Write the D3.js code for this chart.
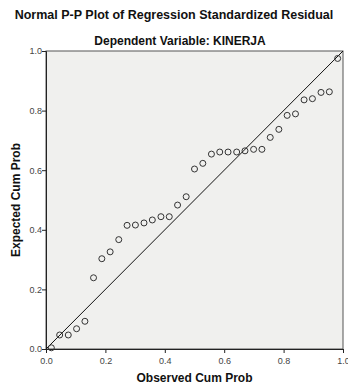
<!DOCTYPE html>
<html lang="en">
<head>
<meta charset="UTF-8">
<title>Normal P-P Plot</title>
<script src="https://cdn.jsdelivr.net/npm/d3@7"></script>
<style>
  body { margin: 0; background: #fff; }
</style>
</head>
<body>
<div id="container"></div>
<script>
const width = 348;
const height = 386;
const margin = { top: 51, left: 46, right: 5, bottom: 37 };

const titleText = 'Normal P-P Plot of Regression Standardized Residual';
const subtitleText = 'Dependent Variable: KINERJA';
const xLabel = 'Observed Cum Prob';
const yLabel = 'Expected Cum Prob';
const tickValues = [0, 0.2, 0.4, 0.6, 0.8, 1.0];

// observed cumulative probability (35 residuals)
const observed = [0.018, 0.046, 0.075, 0.103, 0.131, 0.160, 0.188, 0.216, 0.245, 0.273,
  0.301, 0.330, 0.358, 0.387, 0.415, 0.443, 0.472, 0.500, 0.528, 0.557,
  0.585, 0.613, 0.642, 0.670, 0.699, 0.727, 0.755, 0.784, 0.812, 0.840,
  0.869, 0.897, 0.926, 0.954, 0.982];
// expected cumulative probability
const expected = [0.004, 0.047, 0.047, 0.068, 0.093, 0.239, 0.303, 0.326, 0.367, 0.415,
  0.416, 0.423, 0.433, 0.444, 0.444, 0.483, 0.511, 0.604, 0.623, 0.654,
  0.661, 0.661, 0.661, 0.665, 0.670, 0.670, 0.710, 0.737, 0.784, 0.789,
  0.836, 0.840, 0.861, 0.863, 0.975];

const points = observed.map((d, i) => ({ x: d, y: expected[i] }));

const x = d3.scaleLinear().domain([0, 1]).range([margin.left, width - margin.right]);
const y = d3.scaleLinear().domain([0, 1]).range([height - margin.bottom, margin.top]);

const svg = d3.select('#container').append('svg')
  .attr('width', width)
  .attr('height', height)
  .attr('font-family', 'Liberation Sans, Arial, sans-serif');

svg.append('text')
  .attr('x', width / 2)
  .attr('y', 19)
  .attr('text-anchor', 'middle')
  .attr('font-size', 12.5)
  .attr('font-weight', 'bold')
  .attr('fill', '#111')
  .text(titleText);

svg.append('text')
  .attr('x', width / 2 + 6)
  .attr('y', 45)
  .attr('text-anchor', 'middle')
  .attr('font-size', 12)
  .attr('font-weight', 'bold')
  .attr('fill', '#111')
  .text(subtitleText);

// plot background
svg.append('rect')
  .attr('x', x(0))
  .attr('y', y(1))
  .attr('width', x(1) - x(0))
  .attr('height', y(0) - y(1))
  .attr('fill', '#f0f0ee')
  .attr('stroke', '#555')
  .attr('stroke-width', 1);

const xAxis = svg.append('g')
  .attr('transform', `translate(0,${y(0)})`)
  .call(d3.axisBottom(x).tickValues(tickValues).tickFormat(d3.format('.1f')).tickSize(4));
const yAxis = svg.append('g')
  .attr('transform', `translate(${x(0)},0)`)
  .call(d3.axisLeft(y).tickValues(tickValues).tickFormat(d3.format('.1f')).tickSize(4));

[xAxis, yAxis].forEach(g => {
  g.select('.domain').attr('stroke', '#222');
  g.selectAll('.tick line').attr('stroke', '#222');
  g.selectAll('.tick text')
    .attr('font-size', 9)
    .attr('font-family', 'Liberation Sans, Arial, sans-serif')
    .attr('fill', '#444');
});
xAxis.selectAll('.tick text').attr('dy', '0.9em');
yAxis.selectAll('.tick text').attr('x', -4);

// reference diagonal
svg.append('line')
  .attr('x1', x(0)).attr('y1', y(0))
  .attr('x2', x(1)).attr('y2', y(1))
  .attr('stroke', '#111')
  .attr('stroke-width', 1);

svg.append('g')
  .selectAll('circle')
  .data(points)
  .join('circle')
  .attr('cx', d => x(d.x))
  .attr('cy', d => y(d.y))
  .attr('r', 3)
  .attr('fill', 'none')
  .attr('stroke', '#333')
  .attr('stroke-width', 1);

svg.append('text')
  .attr('x', (x(0) + x(1)) / 2)
  .attr('y', 382)
  .attr('text-anchor', 'middle')
  .attr('font-size', 12)
  .attr('font-weight', 'bold')
  .attr('fill', '#111')
  .text(xLabel);

svg.append('text')
  .attr('transform', `translate(20,${(y(0) + y(1)) / 2}) rotate(-90)`)
  .attr('text-anchor', 'middle')
  .attr('font-size', 12)
  .attr('font-weight', 'bold')
  .attr('fill', '#111')
  .text(yLabel);
</script>
</body>
</html>
